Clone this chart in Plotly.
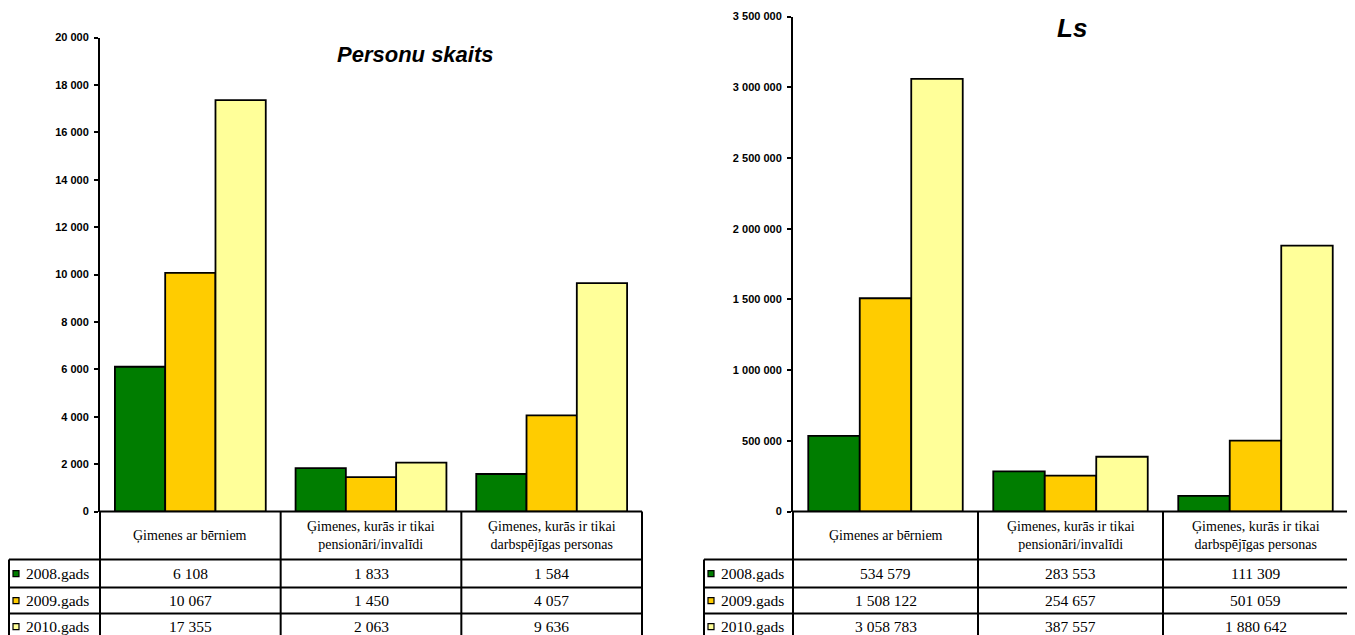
import plotly.graph_objects as go

# ---------------- data ----------------
categories = ["Ģimenes ar bērniem",
              "Ģimenes, kurās ir tikai<br>pensionāri/invalīdi",
              "Ģimenes, kurās ir tikai<br>darbspējīgas personas"]
cat_keys = ["c1", "c2", "c3"]
series_names = ["2008.gads", "2009.gads", "2010.gads"]
colors = ["#007D00", "#FFCC00", "#FFFF99"]

persons_2008 = [6108, 1833, 1584]
persons_2009 = [10067, 1450, 4057]
persons_2010 = [17355, 2063, 9636]

lats_2008 = [534579, 283553, 111309]
lats_2009 = [1508122, 254657, 501059]
lats_2010 = [3058783, 387557, 1880642]

persons = [persons_2008, persons_2009, persons_2010]
lats = [lats_2008, lats_2009, lats_2010]

left_title = "Personu skaits"
right_title = "Ls"

left_ticks = [0, 2000, 4000, 6000, 8000, 10000, 12000, 14000, 16000, 18000, 20000]
right_ticks = [0, 500000, 1000000, 1500000, 2000000, 2500000, 3000000, 3500000]

# ---------------- layout geometry (window pixels) ----------------
W, H = 1355, 635
OFFX = 8                 # page body margin (horizontal)
OFFY, SCY = 13.5, 0.981  # observed vertical placement of the figure in the photo


def px(x):
    return (x - OFFX) / W


def py(y):
    return 1 - ((y - OFFY) / SCY) / H


panels = [
    dict(data=persons, xa="x", ya="y", axis_x=100, right_x=642, legend_x=9,
         top_y=37, ymax=20000, title=left_title, title_x=416, title_y=54, title_size=22),
    dict(data=lats, xa="x2", ya="y2", axis_x=793, right_x=1348, legend_x=704,
         top_y=16, ymax=3500000, title=right_title, title_x=1072, title_y=27, title_size=26),
]
zero_y = 511
row_lines = [559, 587, 613, 639]

fig = go.Figure()
shapes = []
annotations = []
line_style = dict(color="black", width=2)

for p in panels:
    for s_i, s_name in enumerate(series_names):
        fig.add_trace(go.Bar(
            x=cat_keys, y=p["data"][s_i], name=s_name,
            marker=dict(color=colors[s_i], line=dict(color="black", width=1.8)),
            xaxis=p["xa"], yaxis=p["ya"], showlegend=False,
            hovertemplate="%{y:,d}<extra>" + s_name + "</extra>",
        ))
    col_w = (p["right_x"] - p["axis_x"]) / 3
    cols = [p["axis_x"] + i * col_w for i in range(4)]
    shapes.append(dict(type="line", xref="paper", yref="paper",
                       x0=px(p["axis_x"]), x1=px(p["right_x"]),
                       y0=py(zero_y), y1=py(zero_y), line=line_style))
    for ry in row_lines[:3]:
        shapes.append(dict(type="line", xref="paper", yref="paper",
                           x0=px(p["legend_x"]), x1=px(p["right_x"]),
                           y0=py(ry), y1=py(ry), line=line_style))
    for cx in cols:
        shapes.append(dict(type="line", xref="paper", yref="paper",
                           x0=px(cx), x1=px(cx), y0=py(zero_y), y1=py(H + 30),
                           line=line_style))
    shapes.append(dict(type="line", xref="paper", yref="paper",
                       x0=px(p["legend_x"]), x1=px(p["legend_x"]),
                       y0=py(row_lines[0]), y1=py(H + 30), line=line_style))
    for c_i, cat in enumerate(categories):
        annotations.append(dict(
            xref="paper", yref="paper", x=px(cols[c_i] + col_w / 2),
            y=py((zero_y + row_lines[0]) / 2), text=cat, showarrow=False,
            xanchor="center", yanchor="middle",
            font=dict(family="Liberation Serif", size=14, color="black")))
    for s_i, s_name in enumerate(series_names):
        ymid = (row_lines[s_i] + row_lines[s_i + 1]) / 2
        shapes.append(dict(type="rect", xref="paper", yref="paper",
                           x0=px(p["legend_x"] + 4), x1=px(p["legend_x"] + 10),
                           y0=py(ymid + 3), y1=py(ymid - 3),
                           fillcolor=colors[s_i], line=dict(color="black", width=1.2)))
        annotations.append(dict(
            xref="paper", yref="paper", x=px(p["legend_x"] + 15), y=py(ymid),
            text=s_name, showarrow=False, xanchor="left", yanchor="middle",
            font=dict(family="Liberation Serif", size=15.5, color="black")))
        for c_i in range(3):
            val = p["data"][s_i][c_i]
            annotations.append(dict(
                xref="paper", yref="paper", x=px(cols[c_i] + col_w / 2), y=py(ymid),
                text=f"{val:,}".replace(",", " "), showarrow=False,
                xanchor="center", yanchor="middle",
                font=dict(family="Liberation Serif", size=15.5, color="black")))
    annotations.append(dict(
        xref="paper", yref="paper", x=px(p["title_x"]), y=py(p["title_y"]),
        text="<b><i>" + p["title"] + "</i></b>", showarrow=False,
        xanchor="center", yanchor="middle",
        font=dict(family="Liberation Sans", size=p["title_size"], color="black")))

xaxis_common = dict(type="category", categoryorder="array", categoryarray=cat_keys,
                    range=[-0.5, 2.5], showticklabels=False, showline=False,
                    showgrid=False, zeroline=False, ticks="", fixedrange=True)
yaxis_common = dict(showline=True, linecolor="black", linewidth=2, ticks="outside",
                    ticklen=4, tickwidth=1.5, tickcolor="black", showgrid=False,
                    zeroline=False, tickformat=",d", ticklabelstandoff=3,
                    tickfont=dict(family="Liberation Sans", size=11, color="black",
                                  weight="bold"))

fig.update_layout(
    width=W, height=H, autosize=False,
    margin=dict(l=0, r=0, t=0, b=0),
    paper_bgcolor="white", plot_bgcolor="white",
    separators=". ",
    barmode="group", bargap=0.165, bargroupgap=0,
    showlegend=False,
    xaxis=dict(domain=[px(100), px(642)], anchor="y", **xaxis_common),
    yaxis=dict(domain=[py(zero_y), py(37)], anchor="x", range=[0, 20000],
               tickvals=left_ticks, **yaxis_common),
    xaxis2=dict(domain=[px(793), px(1348)], anchor="y2", **xaxis_common),
    yaxis2=dict(domain=[py(zero_y), min(1.0, py(16))], anchor="x2", range=[0, 3500000],
                tickvals=right_ticks, **yaxis_common),
    shapes=shapes,
    annotations=annotations,
)

fig.write_html("out.html")
